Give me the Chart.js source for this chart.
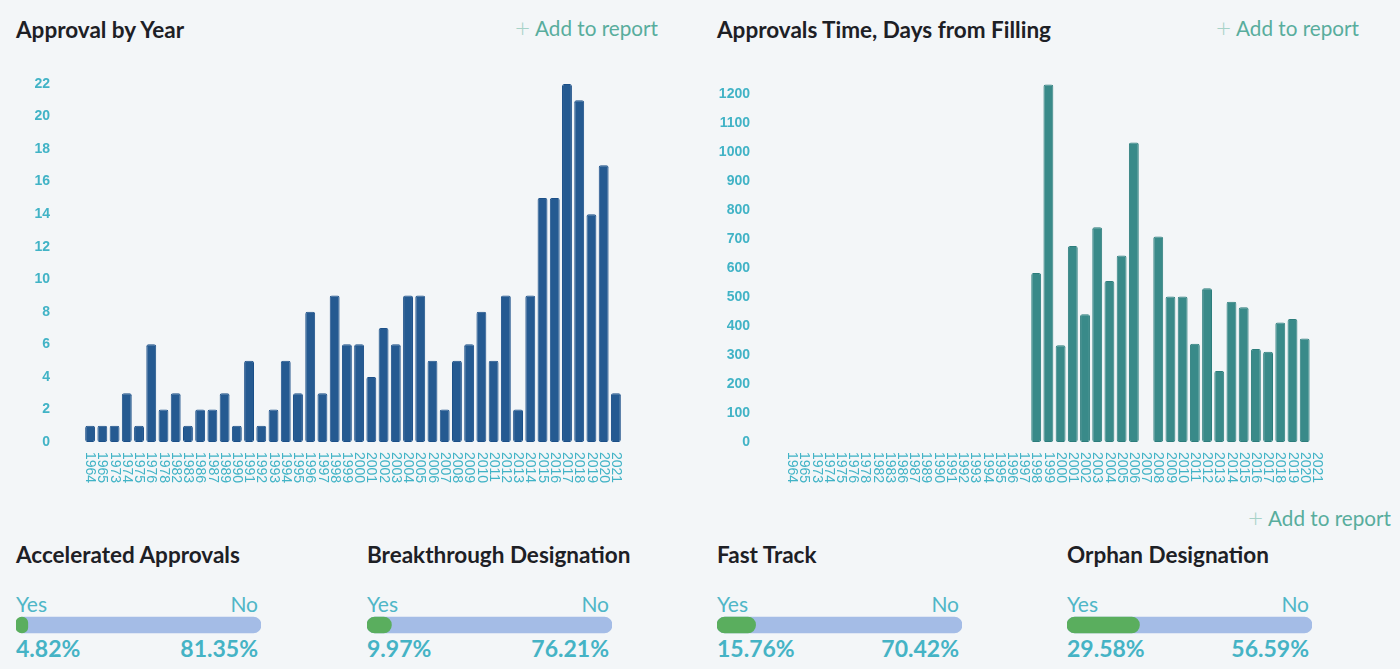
<!DOCTYPE html>
<html><head><meta charset="utf-8">
<script src="https://cdn.jsdelivr.net/npm/chart.js@4.4.0/dist/chart.umd.min.js"></script>
<style>
html,body{margin:0;padding:0;background:#f3f6f8;width:1400px;height:669px;overflow:hidden;font-family:Lato,"Open Sans",sans-serif;}
.abs{position:absolute;white-space:nowrap;}
.title{font-weight:700;font-size:22.5px;line-height:24px;color:#1d2025;}
.add{font-size:20.7px;line-height:24px;color:#58ad9d;text-align:right;}
.add .plus{color:#a6d2c8;font-weight:300;font-size:26px;margin-right:5px;position:relative;top:1px;}
.yn{font-size:21px;line-height:24px;color:#4fb6c7;font-weight:400;}
.pct{font-size:23px;line-height:24px;color:#45b3c5;font-weight:700;}
.box{position:absolute;}
</style>
</head><body>
<div class="abs title" style="left:16px;top:18px;">Approval by Year</div>
<div class="abs add" style="right:742px;top:14px;"><span class="plus">+</span>Add to report</div>
<div class="abs title" style="left:717px;top:18px;">Approvals Time, Days from Filling</div>
<div class="abs add" style="right:41px;top:14px;"><span class="plus">+</span>Add to report</div>
<div class="abs add" style="right:9px;top:504px;"><span class="plus">+</span>Add to report</div>

<div class="box" style="left:0px;top:60px;width:632px;height:440px;"><canvas id="c1"></canvas></div>
<div class="box" style="left:700px;top:60px;width:633px;height:440px;"><canvas id="c2"></canvas></div>
<div id="bottom"></div>

<script>
// ---- data ----
const years = ['1964','1965','1973','1974','1975','1976','1978','1982','1983','1986','1987','1989','1990',
  '1991','1992','1993','1994','1995','1996','1997','1998','1999','2000','2001','2002','2003','2004','2005',
  '2006','2007','2008','2009','2010','2011','2012','2013','2014','2015','2016','2017','2018','2019','2020','2021'];
const approvals = [1,1,1,3,1,6,2,3,1,2,2,3,1,
  5,1,2,5,3,8,3,9,6,6,4,7,6,9,9,
  5,2,5,6,8,5,9,2,9,15,15,22,21,14,17,3];
const approvalDays = [null,null,null,null,null,null,null,null,null,null,null,null,null,
  null,null,null,null,null,null,null,583,1233,334,676,441,741,555,643,
  1033,null,709,502,502,339,530,245,484,465,321,311,412,424,357,null];
const countTicks = {max: 22, step: 2};
const dayTicks = {max: 1235, step: 100};

const designations = ['Accelerated Approvals','Breakthrough Designation','Fast Track','Orphan Designation'];
const yesPct = [4.82, 9.97, 15.76, 29.58];
const noPct = [81.35, 76.21, 70.42, 56.59];

// ---- styles / layout ----
const TICK = '#41b3c6';
const colLeft = [16, 367, 717, 1067];

const rotLabels = {
  id: 'rotLabels',
  afterDraw(chart) {
    const xs = chart.scales.x, ctx = chart.ctx;
    ctx.save();
    ctx.font = '14px "Liberation Sans", Arial, sans-serif';
    ctx.fillStyle = TICK;
    ctx.textAlign = 'left';
    ctx.textBaseline = 'middle';
    chart.data.labels.forEach((lab, i) => {
      const x = xs.getPixelForValue(i);
      ctx.save();
      ctx.translate(x, xs.top + 10);
      ctx.rotate(Math.PI / 2);
      ctx.fillText(lab, 0, 0);
      ctx.restore();
    });
    ctx.restore();
  }
};

function barChart(id, values, ticksCfg, fill, border, yWidth, yPad) {
  return new Chart(document.getElementById(id), {
    type: 'bar',
    data: { labels: years, datasets: [{
      data: values, backgroundColor: fill, borderColor: border, borderWidth: 1,
      borderRadius: 2, borderSkipped: false, barPercentage: 0.9, categoryPercentage: 0.9
    }]},
    plugins: [rotLabels],
    options: {
      responsive: true, maintainAspectRatio: false, animation: false,
      layout: { padding: { top: 24, right: 10, left: 0, bottom: 0 } },
      plugins: { legend: { display: false }, tooltip: { enabled: false } },
      scales: {
        x: { grid: { display: false }, border: { display: false },
             ticks: { display: false },
             afterFit(s) { s.height = 58; } },
        y: { min: 0, max: ticksCfg.max, grid: { display: false, drawTicks: false }, border: { display: false },
             ticks: { stepSize: ticksCfg.step, includeBounds: false, padding: yPad, color: TICK,
                      font: { family: '"Liberation Sans", Arial, sans-serif', size: 14, weight: 'bold' },
                      callback: v => String(v) },
             afterFit(s) { s.width = yWidth; s.paddingTop = 0; s.paddingBottom = 0; } }
      }
    }
  });
}

barChart('c1', approvals, countTicks, '#255a91', '#1b4f88', 84, 34);
barChart('c2', approvalDays, dayTicks, '#398a89', '#2c7d7c', 86, 36);

// bottom designation panels
const bottom = document.getElementById('bottom');
designations.forEach((name, i) => {
  const L = colLeft[i];
  bottom.insertAdjacentHTML('beforeend',
    `<div class="abs title" style="left:${L}px;top:543px;">${name}</div>
     <div class="abs yn" style="left:${L}px;top:592px;">Yes</div>
     <div class="abs yn" style="left:${L}px;top:592px;width:242px;text-align:right;">No</div>
     <div class="box" style="left:${L}px;top:616px;width:245px;height:18px;"><canvas id="p${i}"></canvas></div>
     <div class="abs pct" style="left:${L}px;top:636px;">${yesPct[i].toFixed(2)}%</div>
     <div class="abs pct" style="left:${L}px;top:636px;width:242px;text-align:right;">${noPct[i].toFixed(2)}%</div>`);
});
designations.forEach((name, i) => {
  new Chart(document.getElementById('p' + i), {
    type: 'bar',
    data: { labels: [name], datasets: [
      { data: [yesPct[i]], backgroundColor: '#5aae5e', borderWidth: 0, borderRadius: 8, borderSkipped: false,
        grouped: false, order: 0, barThickness: 16 },
      { data: [100], backgroundColor: '#a4bce6', borderWidth: 0, borderRadius: 8, borderSkipped: false,
        grouped: false, order: 1, barThickness: 16 }
    ]},
    options: {
      indexAxis: 'y', responsive: true, maintainAspectRatio: false, animation: false,
      layout: { padding: 0 },
      plugins: { legend: { display: false }, tooltip: { enabled: false } },
      scales: { x: { display: false, min: 0, max: 100 }, y: { display: false } }
    }
  });
});
</script>
</body></html>
